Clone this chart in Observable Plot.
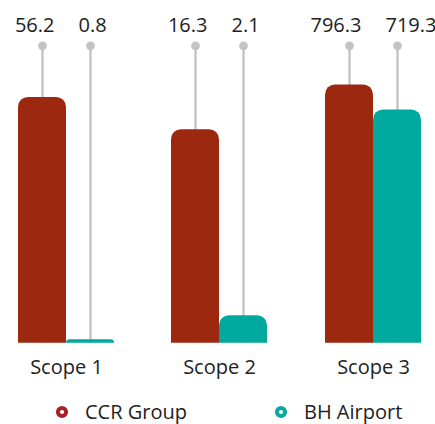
<!DOCTYPE html>
<html>
<head>
<meta charset="utf-8">
<script src="https://cdn.jsdelivr.net/npm/d3@7"></script>
<script src="https://cdn.jsdelivr.net/npm/@observablehq/plot@0.6"></script>
<style>
  body { margin: 0; background: #fff; font-family: "Open Sans", sans-serif; }
  #chart { position: relative; width: 435px; height: 424px; overflow: hidden; }
  .panel { position: absolute; top: 0; }
  #legend { position: absolute; top: 402px; left: 54px; display: flex; align-items: center;
            font-size: 20px; line-height: 20px; color: #222; }
  .item { display: flex; align-items: center; }
  .item svg { display: block; }
  .item span { margin-left: 15px; }
</style>
</head>
<body>
<div id="chart"></div>
<script>
// ---- data ----
const scopes = ["Scope 1", "Scope 2", "Scope 3"];
const series = ["CCR Group", "BH Airport"];
const ccrGroup = [56.2, 16.3, 796.3];
const bhAirport = [0.8, 2.1, 719.3];
// each scope group is drawn on its own y scale (top of scale at the grey dots)
const scaleTop = [68, 22.7, 917];
const colors = ["#9c2810", "#00a99d"];
const legendColors = ["#a8222a", "#0aa9a0"];

const chart = document.getElementById("chart");
const panelLefts = [-11, 142, 296];

scopes.forEach((scope, i) => {
  const rows = [
    {scope, series: series[0], value: ccrGroup[i]},
    {scope, series: series[1], value: bhAirport[i]}
  ];
  const top = scaleTop[i];
  const p = Plot.plot({
    width: 154,
    height: 392,
    marginLeft: 29,
    marginRight: 29,
    marginTop: 45.3,
    marginBottom: 392 - 342.7,
    style: {fontFamily: "Open Sans, sans-serif", fontSize: "20px", color: "#222", background: "transparent", overflow: "visible"},
    fx: {domain: [scope], padding: 0, label: null},
    x: {domain: series, padding: 0, axis: null},
    y: {domain: [0, top], axis: null},
    color: {domain: series, range: colors},
    marks: [
      Plot.ruleX(rows, {fx: "scope", x: "series", y1: 0, y2: () => top, stroke: "#c3c3c7", strokeWidth: 2.3}),
      Plot.dot(rows, {fx: "scope", x: "series", y: () => top, r: 4.4, fill: "#c3c3c7"}),
      Plot.barY(rows, {fx: "scope", x: "series", y: "value", fill: "series", inset: 0, ry1: 10}),
      Plot.text(rows.filter(d => d.series === series[0]), {fx: "scope", x: "series", y: () => top, text: d => d.value.toFixed(1), textAnchor: "end", dx: 12, dy: -20, fill: "#222", fontSize: 20}),
      Plot.text(rows.filter(d => d.series === series[1]), {fx: "scope", x: "series", y: () => top, text: d => d.value.toFixed(1), textAnchor: "start", dx: -12, dy: -20, fill: "#222", fontSize: 20}),
      Plot.axisFx({anchor: "bottom", tickSize: 0, tickPadding: 17, label: null, fontSize: 20, fill: "#222"})
    ]
  });
  p.classList.add("panel");
  p.style.left = panelLefts[i] + "px";
  chart.appendChild(p);
});

// legend
const legend = document.createElement("div");
legend.id = "legend";
series.forEach((s, i) => {
  const item = document.createElement("div");
  item.className = "item";
  if (i > 0) item.style.marginLeft = "86px";
  item.innerHTML = `<svg width="16" height="16"><circle cx="8" cy="8" r="4.1" fill="none" stroke="${legendColors[i]}" stroke-width="4"></circle></svg><span>${s}</span>`;
  legend.appendChild(item);
});
chart.appendChild(legend);
</script>
</body>
</html>
